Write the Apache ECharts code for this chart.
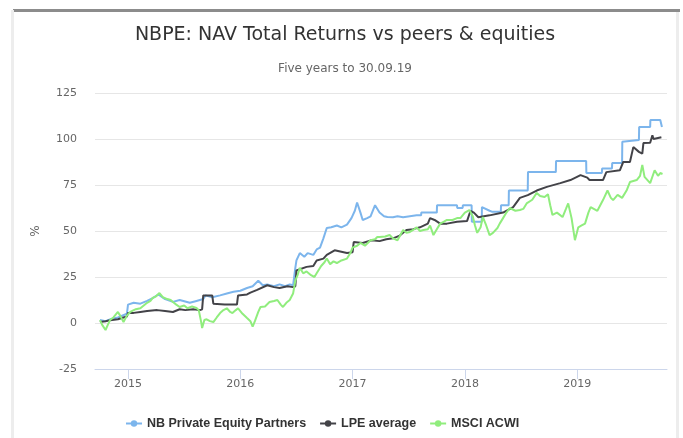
<!DOCTYPE html>
<html>
<head>
<meta charset="utf-8">
<title>NBPE: NAV Total Returns vs peers & equities</title>
<script src="https://cdn.jsdelivr.net/npm/echarts@6/dist/echarts.min.js"></script>
<style>
  html, body { margin: 0; padding: 0; background: #fff; }
  #chart { width: 683px; height: 438px; }
</style>
</head>
<body>
<div id="chart"></div>
<script>
// x = date as decimal year, y = total return in %
var yearTicks = [2015, 2016, 2017, 2018, 2019];
var seriesNames = ['NB Private Equity Partners', 'LPE average', 'MSCI ACWI'];

// NB Private Equity Partners (NAV total return)
var nbpe = [
  [2014.75, 1.6], [2014.80, 1], [2014.84, 2], [2014.91, 3], [2014.99, 5], [2015.00, 10],
  [2015.05, 11], [2015.11, 10.5], [2015.17, 12], [2015.22, 13.5], [2015.27, 15.5], [2015.33, 13],
  [2015.40, 11.5], [2015.46, 12.5], [2015.55, 11], [2015.61, 12], [2015.67, 13], [2015.69, 15],
  [2015.75, 14], [2015.82, 15], [2015.88, 16], [2015.94, 17], [2016.00, 17.5], [2016.06, 19],
  [2016.11, 20], [2016.16, 23], [2016.20, 20.5], [2016.24, 21], [2016.30, 20], [2016.35, 21],
  [2016.40, 20], [2016.44, 21], [2016.47, 20.5], [2016.49, 30], [2016.50, 34], [2016.53, 38],
  [2016.57, 36], [2016.60, 38], [2016.65, 37], [2016.68, 40], [2016.71, 41], [2016.74, 46],
  [2016.77, 51.6], [2016.81, 52], [2016.86, 53], [2016.90, 52], [2016.95, 53.5], [2016.99, 57],
  [2017.02, 61], [2017.04, 65.5], [2017.07, 60], [2017.09, 56], [2017.13, 57], [2017.16, 58],
  [2017.20, 64], [2017.24, 60], [2017.28, 58], [2017.31, 57.6], [2017.36, 57.5], [2017.40, 58],
  [2017.45, 57.5], [2017.51, 58], [2017.57, 58.5], [2017.61, 58.5], [2017.612, 60], [2017.75, 60],
  [2017.752, 64], [2017.93, 64], [2017.932, 62.5], [2017.98, 62.5], [2017.982, 64], [2018.06, 64],
  [2018.062, 55], [2018.15, 55], [2018.152, 63], [2018.22, 61], [2018.24, 60.5], [2018.32, 60.5],
  [2018.322, 64], [2018.39, 64], [2018.392, 72], [2018.56, 72], [2018.562, 82], [2018.81, 82],
  [2018.812, 88], [2019.08, 88], [2019.082, 81.5], [2019.22, 81.5], [2019.222, 84], [2019.31, 84],
  [2019.312, 87], [2019.40, 87], [2019.402, 98.5], [2019.55, 99.5], [2019.552, 106.5], [2019.65, 106.5],
  [2019.652, 110.3], [2019.74, 110.3], [2019.755, 106.5]
];

// LPE average
var lpe = [
  [2014.75, 0.5], [2014.80, 1], [2014.84, 1.5], [2014.91, 2], [2014.96, 3], [2014.99, 3.5],
  [2015.00, 5.5], [2015.05, 5.5], [2015.11, 6], [2015.17, 6.5], [2015.26, 7], [2015.33, 6.5],
  [2015.40, 6], [2015.46, 7.5], [2015.51, 7], [2015.58, 7.5], [2015.64, 7], [2015.66, 7.5],
  [2015.67, 15], [2015.75, 15], [2015.76, 10.5], [2015.86, 10], [2015.97, 10], [2015.98, 15],
  [2016.06, 15.5], [2016.09, 16.5], [2016.15, 18], [2016.24, 20.5], [2016.30, 19.5], [2016.35, 19],
  [2016.42, 20], [2016.47, 19.5], [2016.49, 20], [2016.50, 28.5], [2016.59, 30.5], [2016.65, 31],
  [2016.68, 34], [2016.74, 35], [2016.77, 37], [2016.84, 39.5], [2016.95, 38], [2017.00, 38.5],
  [2017.01, 44], [2017.09, 43.5], [2017.17, 45], [2017.24, 44.5], [2017.30, 45.5], [2017.36, 46],
  [2017.42, 47.5], [2017.48, 50.5], [2017.54, 51], [2017.60, 52], [2017.67, 54], [2017.69, 57],
  [2017.73, 56], [2017.78, 54], [2017.84, 54], [2017.93, 55], [2018.02, 55.5], [2018.05, 61],
  [2018.08, 60], [2018.12, 57.5], [2018.22, 58.5], [2018.34, 60], [2018.43, 63], [2018.49, 68],
  [2018.56, 69.5], [2018.64, 72], [2018.73, 74], [2018.85, 76], [2018.94, 77.7], [2019.03, 80.4],
  [2019.09, 79], [2019.11, 77.7], [2019.23, 77.7], [2019.26, 82], [2019.38, 83], [2019.41, 87.5],
  [2019.47, 87.5], [2019.50, 95.6], [2019.55, 93], [2019.58, 92], [2019.59, 97.8], [2019.65, 98],
  [2019.67, 102], [2019.68, 100], [2019.75, 101]
];

// MSCI ACWI
var msci = [
  [2014.75, 1.6], [2014.77, -1], [2014.80, -3.8], [2014.82, -1], [2014.84, 1.6], [2014.87, 3],
  [2014.91, 6], [2014.93, 4], [2014.96, 0.5], [2014.99, 4], [2015.02, 6], [2015.07, 7.5],
  [2015.11, 8], [2015.14, 9.5], [2015.17, 11], [2015.20, 12], [2015.22, 13.6], [2015.25, 14.5],
  [2015.28, 16.3], [2015.31, 14], [2015.35, 13], [2015.38, 12.5], [2015.40, 11.4], [2015.43, 10],
  [2015.46, 8.7], [2015.50, 9.5], [2015.53, 8], [2015.57, 9], [2015.61, 8.2], [2015.63, 7],
  [2015.65, 1], [2015.66, -2.7], [2015.68, 1.6], [2015.70, 2], [2015.73, 1], [2015.76, 0.5],
  [2015.79, 3], [2015.82, 5.4], [2015.85, 7], [2015.88, 8], [2015.91, 6], [2015.93, 5.4],
  [2015.96, 7], [2015.98, 8], [2016.02, 5], [2016.06, 2.7], [2016.09, 1], [2016.11, -2],
  [2016.13, 1], [2016.16, 6], [2016.18, 8.7], [2016.22, 9], [2016.26, 11.4], [2016.30, 12],
  [2016.33, 12.5], [2016.36, 10], [2016.38, 8.7], [2016.41, 11], [2016.44, 12.5], [2016.47, 16],
  [2016.49, 23], [2016.51, 26], [2016.53, 30], [2016.56, 27], [2016.59, 28], [2016.63, 26],
  [2016.66, 25], [2016.68, 27], [2016.72, 31], [2016.75, 33], [2016.77, 35], [2016.80, 32],
  [2016.83, 33.5], [2016.86, 32.6], [2016.90, 34], [2016.95, 35], [2016.98, 38], [2017.00, 41],
  [2017.04, 42], [2017.07, 43.5], [2017.11, 42], [2017.16, 45], [2017.20, 45.5], [2017.22, 46.7],
  [2017.24, 46.7], [2017.29, 47], [2017.33, 47.8], [2017.36, 46], [2017.40, 45], [2017.45, 50.5],
  [2017.48, 49], [2017.51, 49.5], [2017.55, 51], [2017.57, 52], [2017.60, 50], [2017.63, 50.5],
  [2017.67, 51], [2017.69, 53], [2017.72, 47.8], [2017.75, 51], [2017.78, 54], [2017.81, 55],
  [2017.84, 56], [2017.89, 56], [2017.93, 57], [2017.96, 57], [2018.00, 60], [2018.04, 61.4],
  [2018.07, 58], [2018.09, 53], [2018.11, 49], [2018.14, 52], [2018.16, 57.6], [2018.19, 53],
  [2018.22, 47.8], [2018.25, 49], [2018.29, 51.6], [2018.31, 54], [2018.34, 57], [2018.37, 60],
  [2018.40, 62.5], [2018.45, 61], [2018.49, 61.4], [2018.52, 62], [2018.55, 65], [2018.60, 67],
  [2018.64, 70.7], [2018.67, 69], [2018.71, 68.5], [2018.74, 70], [2018.76, 64], [2018.78, 58.7],
  [2018.82, 60], [2018.87, 57.6], [2018.90, 62], [2018.92, 65], [2018.95, 57], [2018.98, 45],
  [2019.01, 52], [2019.04, 53], [2019.07, 54], [2019.10, 60], [2019.12, 63], [2019.18, 61],
  [2019.23, 66.8], [2019.27, 72], [2019.30, 68], [2019.32, 66.8], [2019.36, 69.6], [2019.40, 68],
  [2019.44, 72], [2019.47, 76.6], [2019.53, 77.7], [2019.56, 80], [2019.58, 85.9], [2019.60, 79.4],
  [2019.65, 76], [2019.69, 83], [2019.72, 80], [2019.74, 81.5], [2019.76, 81]
];

var colors = ['#7cb5ec', '#434348', '#90ed7d'];
var font = '"DejaVu Sans", Verdana, sans-serif';
var legendFont = '"Liberation Sans", Arial, sans-serif';

function lineSeries(name, data, color) {
  return {
    name: name,
    type: 'line',
    data: data,
    showSymbol: false,
    symbol: 'circle',
    symbolSize: 8,
    color: color,
    lineStyle: { width: 2, color: color },
    emphasis: { disabled: true },
    z: 2
  };
}

var myChart = echarts.init(document.getElementById('chart'), null, { renderer: 'canvas' });
myChart.setOption({
  animation: false,
  backgroundColor: '#fff',
  textStyle: { fontFamily: font },
  title: {
    text: 'NBPE: NAV Total Returns vs peers & equities',
    subtext: 'Five years to 30.09.19',
    left: 340,
    textAlign: 'center',
    top: 21,
    itemGap: 18,
    textStyle: { fontSize: 19, fontWeight: 'normal', color: '#333333', fontFamily: font },
    subtextStyle: { fontSize: 12, color: '#666666', fontFamily: font }
  },
  grid: { left: 95, right: 16, top: 93, bottom: 69, containLabel: false },
  legend: {
    left: 125,
    top: 417,
    padding: 0,
    itemWidth: 16,
    itemHeight: 8,
    itemGap: 13,
    textStyle: { fontSize: 12.5, fontWeight: 'bold', color: '#333333', fontFamily: legendFont },
    data: seriesNames
  },
  xAxis: {
    type: 'value',
    min: 2014.706,
    max: 2019.80,
    axisLine: { onZero: false, lineStyle: { color: '#ccd6eb', width: 1 } },
    axisTick: { show: true, length: 10, customValues: yearTicks, lineStyle: { color: '#ccd6eb' } },
    axisLabel: { customValues: yearTicks, color: '#666666', fontSize: 11, margin: 10, formatter: function (v) { return String(v); } },
    splitLine: { show: false }
  },
  yAxis: {
    type: 'value',
    min: -25,
    max: 125,
    interval: 25,
    name: '%',
    nameLocation: 'middle',
    nameGap: 53,
    nameTextStyle: { color: '#666666', fontSize: 12 },
    axisLine: { show: false },
    axisTick: { show: false },
    axisLabel: { color: '#666666', fontSize: 11, margin: 18 },
    splitLine: { lineStyle: { color: '#e6e6e6', width: 1 } }
  },
  // frame around the chart
  graphic: [
    { type: 'rect', shape: { x: 13, y: 9, width: 667, height: 3 }, style: { fill: '#8c8c8c' }, silent: true },
    { type: 'rect', shape: { x: 11, y: 10, width: 3, height: 428 }, style: { fill: '#ededed' }, silent: true },
    { type: 'rect', shape: { x: 676, y: 12, width: 3, height: 426 }, style: { fill: '#ededed' }, silent: true }
  ],
  series: [
    lineSeries(seriesNames[0], nbpe, colors[0]),
    lineSeries(seriesNames[1], lpe, colors[1]),
    lineSeries(seriesNames[2], msci, colors[2])
  ]
});
</script>
</body>
</html>
